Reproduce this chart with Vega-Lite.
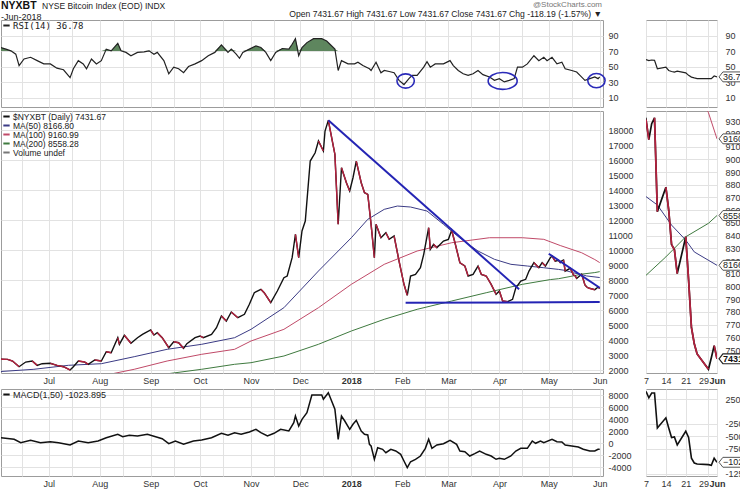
{
"$schema": "https://vega.github.io/schema/vega-lite/v6.json",
"padding": 0,
"background": "white",
"title": {"text": "NYXBT", "subtitle": "-Jun-2018", "anchor": "start", "frame": "group", "fontSize": 10.5, "fontWeight": "bold", "subtitleFontSize": 9, "subtitleColor": "#222", "offset": -21, "subtitlePadding": 1},
"datasets": {
"px": [
{"d":"2017-06-02","p":2713},{"d":"2017-06-06","p":2710},{"d":"2017-06-09","p":2600},{"d":"2017-06-13","p":2220},{"d":"2017-06-17","p":2530},{"d":"2017-06-21","p":2600},{"d":"2017-06-24","p":2310},{"d":"2017-06-27","p":2420},
{"d":"2017-07-02","p":2447},{"d":"2017-07-06","p":2310},{"d":"2017-07-10","p":2220},{"d":"2017-07-14","p":2000},{"d":"2017-07-16","p":2220},{"d":"2017-07-19","p":2600},{"d":"2017-07-23","p":2530},{"d":"2017-07-25","p":2380},{"d":"2017-07-29","p":2667},
{"d":"2017-08-02","p":2600},{"d":"2017-08-05","p":3220},{"d":"2017-08-08","p":3153},{"d":"2017-08-12","p":4153},{"d":"2017-08-13","p":3713},{"d":"2017-08-16","p":4313},{"d":"2017-08-20","p":3780},{"d":"2017-08-24","p":4153},{"d":"2017-08-27","p":4380},
{"d":"2017-09-01","p":4667},{"d":"2017-09-03","p":4333},{"d":"2017-09-05","p":4487},{"d":"2017-09-08","p":4153},{"d":"2017-09-12","p":3487},{"d":"2017-09-15","p":3887},{"d":"2017-09-18","p":3820},{"d":"2017-09-21","p":3447},{"d":"2017-09-23","p":3753},{"d":"2017-09-28","p":4153},
{"d":"2017-10-01","p":4267},{"d":"2017-10-03","p":4153},{"d":"2017-10-08","p":4380},{"d":"2017-10-11","p":4820},{"d":"2017-10-14","p":5600},{"d":"2017-10-17","p":5267},{"d":"2017-10-20","p":5867},{"d":"2017-10-24","p":5487},{"d":"2017-10-28","p":5713},{"d":"2017-10-31","p":6380},
{"d":"2017-11-03","p":7153},{"d":"2017-11-07","p":7380},{"d":"2017-11-09","p":7153},{"d":"2017-11-13","p":6487},{"d":"2017-11-17","p":7267},{"d":"2017-11-21","p":8153},{"d":"2017-11-23","p":8267},{"d":"2017-11-26","p":9487},{"d":"2017-11-28","p":11047},{"d":"2017-11-30","p":9487},
{"d":"2017-12-02","p":11267},{"d":"2017-12-04","p":11933},{"d":"2017-12-07","p":15933},{"d":"2017-12-10","p":16487},{"d":"2017-12-12","p":17267},{"d":"2017-12-15","p":16600},{"d":"2017-12-16","p":17933},{"d":"2017-12-18","p":18647},{"d":"2017-12-22","p":16380},{"d":"2017-12-24","p":11713},{"d":"2017-12-26","p":15487},{"d":"2017-12-29","p":14487},{"d":"2017-12-31","p":13933},
{"d":"2018-01-02","p":14820},{"d":"2018-01-04","p":15933},{"d":"2018-01-07","p":14487},{"d":"2018-01-09","p":13820},{"d":"2018-01-11","p":13713},{"d":"2018-01-13","p":11713},{"d":"2018-01-15","p":9487},{"d":"2018-01-16","p":11713},{"d":"2018-01-19","p":10820},{"d":"2018-01-22","p":11153},{"d":"2018-01-24","p":10713},{"d":"2018-01-27","p":10933},{"d":"2018-01-30","p":9267},
{"d":"2018-02-02","p":7713},{"d":"2018-02-04","p":6980},{"d":"2018-02-06","p":8267},{"d":"2018-02-09","p":8380},{"d":"2018-02-12","p":8820},{"d":"2018-02-14","p":9713},{"d":"2018-02-17","p":11487},{"d":"2018-02-18","p":10047},{"d":"2018-02-20","p":10380},{"d":"2018-02-22","p":10153},{"d":"2018-02-26","p":10600},
{"d":"2018-03-01","p":10713},{"d":"2018-03-03","p":11313},{"d":"2018-03-05","p":10487},{"d":"2018-03-08","p":9153},{"d":"2018-03-11","p":8933},{"d":"2018-03-13","p":8267},{"d":"2018-03-16","p":8380},{"d":"2018-03-19","p":8933},{"d":"2018-03-21","p":8380},{"d":"2018-03-24","p":8267},{"d":"2018-03-27","p":7713},{"d":"2018-03-30","p":7047},
{"d":"2018-04-01","p":7267},{"d":"2018-04-03","p":6600},{"d":"2018-04-06","p":6553},{"d":"2018-04-09","p":6713},{"d":"2018-04-11","p":7487},{"d":"2018-04-14","p":7933},{"d":"2018-04-17","p":8047},{"d":"2018-04-19","p":8600},{"d":"2018-04-22","p":9153},{"d":"2018-04-25","p":8820},{"d":"2018-04-27","p":9153},{"d":"2018-04-29","p":8933},
{"d":"2018-05-02","p":9487},{"d":"2018-05-03","p":9600},{"d":"2018-05-05","p":9250},{"d":"2018-05-07","p":9313},{"d":"2018-05-08","p":9155},{"d":"2018-05-09","p":9280},{"d":"2018-05-10","p":9327},{"d":"2018-05-11","p":8589},{"d":"2018-05-14","p":8781},{"d":"2018-05-15","p":8600},{"d":"2018-05-16","p":8330},{"d":"2018-05-17","p":8290},{"d":"2018-05-18","p":8102},{"d":"2018-05-21","p":8391},{"d":"2018-05-22","p":8050},{"d":"2018-05-23","p":7679},{"d":"2018-05-24","p":7550},{"d":"2018-05-25","p":7470},{"d":"2018-05-29","p":7350},{"d":"2018-05-30","p":7440},{"d":"2018-05-31","p":7535},{"d":"2018-06-01","p":7431.67}
],
"ma": [
{"s":"MA(50) 8166.80","d":"2017-06-02","v":1900},{"s":"MA(50) 8166.80","d":"2017-06-22","v":2047},{"s":"MA(50) 8166.80","d":"2017-07-13","v":2313},{"s":"MA(50) 8166.80","d":"2017-08-02","v":2420},{"s":"MA(50) 8166.80","d":"2017-08-22","v":2887},{"s":"MA(50) 8166.80","d":"2017-09-11","v":3380},{"s":"MA(50) 8166.80","d":"2017-10-02","v":3713},{"s":"MA(50) 8166.80","d":"2017-10-22","v":4153},{"s":"MA(50) 8166.80","d":"2017-11-01","v":4713},{"s":"MA(50) 8166.80","d":"2017-11-21","v":6153},{"s":"MA(50) 8166.80","d":"2017-12-12","v":8600},{"s":"MA(50) 8166.80","d":"2018-01-01","v":10820},{"s":"MA(50) 8166.80","d":"2018-01-11","v":12047},{"s":"MA(50) 8166.80","d":"2018-01-21","v":12713},{"s":"MA(50) 8166.80","d":"2018-01-29","v":12933},{"s":"MA(50) 8166.80","d":"2018-02-06","v":12867},{"s":"MA(50) 8166.80","d":"2018-02-16","v":12600},{"s":"MA(50) 8166.80","d":"2018-02-26","v":11713},{"s":"MA(50) 8166.80","d":"2018-03-09","v":10713},{"s":"MA(50) 8166.80","d":"2018-03-19","v":9933},{"s":"MA(50) 8166.80","d":"2018-03-29","v":9380},{"s":"MA(50) 8166.80","d":"2018-04-08","v":9047},{"s":"MA(50) 8166.80","d":"2018-04-18","v":8933},{"s":"MA(50) 8166.80","d":"2018-04-28","v":8820},{"s":"MA(50) 8166.80","d":"2018-05-07","v":8707},{"s":"MA(50) 8166.80","d":"2018-05-11","v":8641},{"s":"MA(50) 8166.80","d":"2018-05-16","v":8483},{"s":"MA(50) 8166.80","d":"2018-05-21","v":8365},{"s":"MA(50) 8166.80","d":"2018-05-24","v":8272},{"s":"MA(50) 8166.80","d":"2018-06-01","v":8166.80},
{"s":"MA(100) 9160.99","d":"2017-06-02","v":1350},{"s":"MA(100) 9160.99","d":"2017-07-13","v":1480},{"s":"MA(100) 9160.99","d":"2017-08-02","v":1600},{"s":"MA(100) 9160.99","d":"2017-08-22","v":2047},{"s":"MA(100) 9160.99","d":"2017-09-11","v":2600},{"s":"MA(100) 9160.99","d":"2017-10-02","v":3047},{"s":"MA(100) 9160.99","d":"2017-10-22","v":3380},{"s":"MA(100) 9160.99","d":"2017-11-01","v":3933},{"s":"MA(100) 9160.99","d":"2017-11-21","v":4713},{"s":"MA(100) 9160.99","d":"2017-12-12","v":6153},{"s":"MA(100) 9160.99","d":"2018-01-01","v":7713},{"s":"MA(100) 9160.99","d":"2018-01-21","v":9047},{"s":"MA(100) 9160.99","d":"2018-02-10","v":9933},{"s":"MA(100) 9160.99","d":"2018-03-03","v":10487},{"s":"MA(100) 9160.99","d":"2018-03-26","v":10820},{"s":"MA(100) 9160.99","d":"2018-04-15","v":10820},{"s":"MA(100) 9160.99","d":"2018-04-28","v":10713},{"s":"MA(100) 9160.99","d":"2018-05-08","v":10300},{"s":"MA(100) 9160.99","d":"2018-05-21","v":9820},{"s":"MA(100) 9160.99","d":"2018-05-29","v":9366},{"s":"MA(100) 9160.99","d":"2018-06-01","v":9160.99},
{"s":"MA(200) 8558.28","d":"2017-06-02","v":900},{"s":"MA(200) 8558.28","d":"2017-07-13","v":1200},{"s":"MA(200) 8558.28","d":"2017-08-02","v":1400},{"s":"MA(200) 8558.28","d":"2017-09-01","v":1600},{"s":"MA(200) 8558.28","d":"2017-10-02","v":2047},{"s":"MA(200) 8558.28","d":"2017-10-22","v":2380},{"s":"MA(200) 8558.28","d":"2017-11-01","v":2487},{"s":"MA(200) 8558.28","d":"2017-11-21","v":2933},{"s":"MA(200) 8558.28","d":"2017-12-12","v":3713},{"s":"MA(200) 8558.28","d":"2018-01-01","v":4600},{"s":"MA(200) 8558.28","d":"2018-01-21","v":5380},{"s":"MA(200) 8558.28","d":"2018-02-10","v":6047},{"s":"MA(200) 8558.28","d":"2018-03-03","v":6600},{"s":"MA(200) 8558.28","d":"2018-03-24","v":7153},{"s":"MA(200) 8558.28","d":"2018-04-15","v":7713},{"s":"MA(200) 8558.28","d":"2018-05-02","v":8030},{"s":"MA(200) 8558.28","d":"2018-05-07","v":8088},{"s":"MA(200) 8558.28","d":"2018-05-14","v":8233},{"s":"MA(200) 8558.28","d":"2018-05-21","v":8391},{"s":"MA(200) 8558.28","d":"2018-05-29","v":8497},{"s":"MA(200) 8558.28","d":"2018-06-01","v":8558.28}
],
"trend": [
{"g":"a","d":"2017-12-18","v":18647},{"g":"a","d":"2018-04-13","v":7380},
{"g":"b","d":"2018-02-03","v":6480},{"g":"b","d":"2018-06-01","v":6530},
{"g":"c","d":"2018-05-01","v":9753},{"g":"c","d":"2018-06-01","v":7487}
],
"circ": [
{"k":"s","d":"2018-02-03","v":31.5},{"k":"b","d":"2018-04-03","v":31.5},{"k":"s","d":"2018-05-30","v":32}
],
"rsiL": [
{"d":"2017-06-02","r":74.6},{"d":"2017-06-05","r":72.5},{"d":"2017-06-08","r":70.3},{"d":"2017-06-11","r":66},{"d":"2017-06-13","r":51.3},{"d":"2017-06-16","r":59.8},{"d":"2017-06-20","r":62},{"d":"2017-06-24","r":57.7},{"d":"2017-06-28","r":53.5},
{"d":"2017-07-02","r":53.5},{"d":"2017-07-06","r":48},{"d":"2017-07-10","r":45.9},{"d":"2017-07-14","r":35.8},{"d":"2017-07-16","r":47.2},{"d":"2017-07-19","r":57.7},{"d":"2017-07-22","r":53.5},{"d":"2017-07-24","r":47.2},{"d":"2017-07-27","r":59.8},{"d":"2017-07-30","r":53.5},
{"d":"2017-08-02","r":57.7},{"d":"2017-08-05","r":72.5},{"d":"2017-08-08","r":70.3},{"d":"2017-08-12","r":80},{"d":"2017-08-14","r":70.3},{"d":"2017-08-17","r":68.3},{"d":"2017-08-20","r":64},{"d":"2017-08-24","r":68.3},{"d":"2017-08-28","r":69},{"d":"2017-08-31","r":70.3},
{"d":"2017-09-03","r":66},{"d":"2017-09-05","r":68.3},{"d":"2017-09-09","r":57.7},{"d":"2017-09-12","r":40.8},{"d":"2017-09-15","r":49.3},{"d":"2017-09-18","r":47.2},{"d":"2017-09-21","r":42.1},{"d":"2017-09-24","r":50.1},{"d":"2017-09-28","r":53.5},
{"d":"2017-10-02","r":57.7},{"d":"2017-10-06","r":64},{"d":"2017-10-10","r":68.3},{"d":"2017-10-14","r":77.9},{"d":"2017-10-18","r":68.3},{"d":"2017-10-20","r":72.5},{"d":"2017-10-23","r":66},{"d":"2017-10-25","r":60.7},{"d":"2017-10-27","r":68.3},{"d":"2017-10-31","r":72.5},
{"d":"2017-11-04","r":76.6},{"d":"2017-11-07","r":74.6},{"d":"2017-11-10","r":68.3},{"d":"2017-11-13","r":57.7},{"d":"2017-11-16","r":68.3},{"d":"2017-11-20","r":73.3},{"d":"2017-11-24","r":72.5},{"d":"2017-11-26","r":78.8},{"d":"2017-11-28","r":86},{"d":"2017-11-30","r":64},
{"d":"2017-12-02","r":74.6},{"d":"2017-12-05","r":80.9},{"d":"2017-12-09","r":86},{"d":"2017-12-14","r":86},{"d":"2017-12-17","r":83},{"d":"2017-12-19","r":78.8},{"d":"2017-12-22","r":72.5},{"d":"2017-12-24","r":45},{"d":"2017-12-26","r":57.7},{"d":"2017-12-30","r":53.5},
{"d":"2018-01-03","r":53.5},{"d":"2018-01-05","r":55.6},{"d":"2018-01-08","r":51.3},{"d":"2018-01-12","r":47.2},{"d":"2018-01-13","r":45},{"d":"2018-01-16","r":55.6},{"d":"2018-01-19","r":42.1},{"d":"2018-01-21","r":45},{"d":"2018-01-24","r":43.7},{"d":"2018-01-27","r":42.1},{"d":"2018-01-30","r":32.3},
{"d":"2018-02-02","r":26.9},{"d":"2018-02-05","r":34.5},{"d":"2018-02-07","r":38.7},{"d":"2018-02-10","r":38.7},{"d":"2018-02-14","r":49.3},{"d":"2018-02-16","r":56.4},{"d":"2018-02-18","r":49.3},{"d":"2018-02-21","r":53.5},{"d":"2018-02-26","r":53.5},
{"d":"2018-03-02","r":57.7},{"d":"2018-03-04","r":51.3},{"d":"2018-03-07","r":45},{"d":"2018-03-10","r":40.8},{"d":"2018-03-13","r":38.7},{"d":"2018-03-16","r":40.8},{"d":"2018-03-19","r":45},{"d":"2018-03-22","r":39.6},{"d":"2018-03-26","r":36.6},{"d":"2018-03-29","r":32.3},
{"d":"2018-04-01","r":34.5},{"d":"2018-04-04","r":30.3},{"d":"2018-04-07","r":32.3},{"d":"2018-04-10","r":34.5},{"d":"2018-04-12","r":49.3},{"d":"2018-04-15","r":49.3},{"d":"2018-04-18","r":53.5},{"d":"2018-04-22","r":64},{"d":"2018-04-25","r":57.7},{"d":"2018-04-28","r":62},{"d":"2018-04-30","r":57.7},
{"d":"2018-05-03","r":62},{"d":"2018-05-06","r":53.5},{"d":"2018-05-09","r":55.6},{"d":"2018-05-11","r":47.2},{"d":"2018-05-15","r":45},{"d":"2018-05-18","r":43},{"d":"2018-05-20","r":38.7},{"d":"2018-05-23","r":32.3},{"d":"2018-05-26","r":34.5},{"d":"2018-05-29","r":36.6},{"d":"2018-05-31","r":34.5},{"d":"2018-06-01","r":36.78}
],
"rsiR": [
{"d":"2018-05-07","r":59},{"d":"2018-05-08","r":57.7},{"d":"2018-05-09","r":58.5},{"d":"2018-05-10","r":58},{"d":"2018-05-11","r":47.2},{"d":"2018-05-14","r":49.3},{"d":"2018-05-15","r":45},{"d":"2018-05-16","r":43.7},{"d":"2018-05-17","r":43},{"d":"2018-05-18","r":44.2},{"d":"2018-05-21","r":42},{"d":"2018-05-22","r":38.7},{"d":"2018-05-23","r":36.5},{"d":"2018-05-24","r":35.4},{"d":"2018-05-25","r":34.5},{"d":"2018-05-29","r":34.5},{"d":"2018-05-30","r":34.5},{"d":"2018-05-31","r":37.9},{"d":"2018-06-01","r":36.78}
],
"macdL": [
{"d":"2017-06-02","m":883},{"d":"2017-06-10","m":617},{"d":"2017-06-14","m":50},{"d":"2017-06-20","m":450},{"d":"2017-06-26","m":50},{"d":"2017-07-02","m":217},{"d":"2017-07-07","m":50},{"d":"2017-07-14","m":-333},{"d":"2017-07-19","m":333},{"d":"2017-07-25","m":50},{"d":"2017-07-31","m":333},
{"d":"2017-08-05","m":883},{"d":"2017-08-12","m":1450},{"d":"2017-08-15","m":1050},{"d":"2017-08-19","m":1283},{"d":"2017-08-24","m":1167},{"d":"2017-08-30","m":1450},{"d":"2017-09-04","m":1050},{"d":"2017-09-08","m":717},{"d":"2017-09-12","m":-117},{"d":"2017-09-16","m":333},{"d":"2017-09-21","m":-217},{"d":"2017-09-27","m":333},
{"d":"2017-10-02","m":500},{"d":"2017-10-08","m":883},{"d":"2017-10-14","m":1617},{"d":"2017-10-18","m":1283},{"d":"2017-10-22","m":1717},{"d":"2017-10-26","m":1450},{"d":"2017-10-31","m":1833},{"d":"2017-11-04","m":2283},{"d":"2017-11-07","m":1717},{"d":"2017-11-11","m":1167},{"d":"2017-11-15","m":1617},{"d":"2017-11-19","m":2283},{"d":"2017-11-24","m":2000},{"d":"2017-11-27","m":3383},{"d":"2017-11-28","m":4500},{"d":"2017-11-30","m":2833},
{"d":"2017-12-02","m":3950},{"d":"2017-12-05","m":5050},{"d":"2017-12-08","m":8000},{"d":"2017-12-14","m":8000},{"d":"2017-12-15","m":7283},{"d":"2017-12-18","m":8383},{"d":"2017-12-22","m":5617},{"d":"2017-12-24","m":617},{"d":"2017-12-26","m":4500},{"d":"2017-12-28","m":3667},{"d":"2017-12-31","m":2283},
{"d":"2018-01-02","m":3117},{"d":"2018-01-04","m":3783},{"d":"2018-01-07","m":2000},{"d":"2018-01-09","m":1450},{"d":"2018-01-11","m":1333},{"d":"2018-01-12","m":-217},{"d":"2018-01-13","m":-500},{"d":"2018-01-15","m":-2717},{"d":"2018-01-17","m":-783},{"d":"2018-01-20","m":-1050},{"d":"2018-01-22","m":-1617},{"d":"2018-01-25","m":-1050},{"d":"2018-01-28","m":-1333},{"d":"2018-01-31","m":-1883},
{"d":"2018-02-02","m":-3000},{"d":"2018-02-04","m":-4117},{"d":"2018-02-06","m":-3117},{"d":"2018-02-09","m":-2717},{"d":"2018-02-12","m":-2167},{"d":"2018-02-15","m":-883},{"d":"2018-02-17","m":617},{"d":"2018-02-19","m":-883},{"d":"2018-02-22","m":-333},{"d":"2018-02-26","m":-117},
{"d":"2018-03-02","m":450},{"d":"2018-03-06","m":-217},{"d":"2018-03-08","m":-1333},{"d":"2018-03-11","m":-1450},{"d":"2018-03-14","m":-2167},{"d":"2018-03-17","m":-1783},{"d":"2018-03-20","m":-1333},{"d":"2018-03-24","m":-1883},{"d":"2018-03-27","m":-2167},{"d":"2018-03-30","m":-2717},
{"d":"2018-04-01","m":-2550},{"d":"2018-04-04","m":-2717},{"d":"2018-04-08","m":-2167},{"d":"2018-04-11","m":-1333},{"d":"2018-04-14","m":-883},{"d":"2018-04-18","m":-883},{"d":"2018-04-21","m":333},{"d":"2018-04-23","m":-50},{"d":"2018-04-26","m":333},{"d":"2018-04-28","m":50},
{"d":"2018-05-03","m":617},{"d":"2018-05-06","m":217},{"d":"2018-05-09","m":167},{"d":"2018-05-11","m":-333},{"d":"2018-05-15","m":-500},{"d":"2018-05-19","m":-667},{"d":"2018-05-22","m":-1050},{"d":"2018-05-26","m":-1333},{"d":"2018-05-29","m":-1333},{"d":"2018-05-31","m":-1050},{"d":"2018-06-01","m":-1023.895}
],
"macdR": [
{"d":"2018-05-07","m":404},{"d":"2018-05-08","m":275},{"d":"2018-05-09","m":371},{"d":"2018-05-10","m":371},{"d":"2018-05-11","m":-333},{"d":"2018-05-14","m":-129},{"d":"2018-05-15","m":-333},{"d":"2018-05-16","m":-525},{"d":"2018-05-17","m":-513},{"d":"2018-05-18","m":-673},{"d":"2018-05-21","m":-398},{"d":"2018-05-22","m":-525},{"d":"2018-05-23","m":-942},{"d":"2018-05-24","m":-1038},{"d":"2018-05-25","m":-1060},{"d":"2018-05-29","m":-1071},{"d":"2018-05-30","m":-1083},{"d":"2018-05-31","m":-942},{"d":"2018-06-01","m":-1023.895}
]
},
"spacing": 2,
"resolve": {"scale": {"color": "independent", "x": "independent", "y": "independent"}, "legend": {"color": "independent"}},
"vconcat": [
{
"bounds": "flush",
"spacing": 43,
"resolve": {"scale": {"color": "independent", "x": "independent", "y": "independent"}, "legend": {"color": "independent"}},
"hconcat": [
{
"width": 602, "height": 87,
"title": {"text": "NYSE Bitcoin Index (EOD)  INDX", "anchor": "start", "dx": 41, "fontSize": 8.5, "fontWeight": "normal", "offset": 10, "color": "#222"},
"layer": [
{"data": {"name": "rsiL"}, "transform": [{"calculate": "max(datum.r, 70)", "as": "hi"}],
 "mark": {"type": "area", "color": "#557f55", "opacity": 0.95, "clip": true},
 "encoding": {"x": {"field": "d", "type": "temporal", "scale": {"type": "utc", "domain": [{"year":2017,"month":6,"date":2,"utc":true},{"year":2018,"month":6,"date":3,"utc":true}]},
   "axis": {"title": null, "labels": false, "ticks": false, "domain": false, "grid": true, "tickCount": 100, "values": [{"year":2017,"month":6,"date":15,"utc":true},{"year":2017,"month":7,"date":1,"utc":true},{"year":2017,"month":7,"date":15,"utc":true},{"year":2017,"month":8,"date":1,"utc":true},{"year":2017,"month":8,"date":15,"utc":true},{"year":2017,"month":9,"date":1,"utc":true},{"year":2017,"month":9,"date":15,"utc":true},{"year":2017,"month":10,"date":1,"utc":true},{"year":2017,"month":10,"date":15,"utc":true},{"year":2017,"month":11,"date":1,"utc":true},{"year":2017,"month":11,"date":15,"utc":true},{"year":2017,"month":12,"date":1,"utc":true},{"year":2017,"month":12,"date":15,"utc":true},{"year":2018,"month":1,"date":1,"utc":true},{"year":2018,"month":1,"date":15,"utc":true},{"year":2018,"month":2,"date":1,"utc":true},{"year":2018,"month":2,"date":15,"utc":true},{"year":2018,"month":3,"date":1,"utc":true},{"year":2018,"month":3,"date":15,"utc":true},{"year":2018,"month":4,"date":1,"utc":true},{"year":2018,"month":4,"date":15,"utc":true},{"year":2018,"month":5,"date":1,"utc":true},{"year":2018,"month":5,"date":15,"utc":true},{"year":2018,"month":6,"date":1,"utc":true}]}},
  "y": {"field": "hi", "type": "quantitative", "scale": {"domain": [-2, 110], "nice": false, "zero": false}, "axis": {"title": null, "orient": "right", "values": [10, 30, 50, 70, 90], "tickCount": 100, "labelExpr": "'' + datum.value", "labelOverlap": false, "ticks": false, "domain": false, "grid": true, "labelPadding": 5}},
  "y2": {"datum": 70}}},
{"mark": {"type": "rule", "color": "#8f8f8f", "strokeWidth": 1.2}, "encoding": {"y": {"datum": 70}}},
{"mark": {"type": "rule", "color": "#8f8f8f", "strokeWidth": 1.2}, "encoding": {"y": {"datum": 30}}},
{"mark": {"type": "rule", "color": "#9a9a9a", "strokeWidth": 1, "strokeDash": [8, 3, 2, 3]}, "encoding": {"y": {"datum": 50}}},
{"data": {"name": "rsiL"}, "mark": {"type": "line", "strokeWidth": 1.2, "clip": true},
 "encoding": {"x": {"field": "d", "type": "temporal"}, "y": {"field": "r", "type": "quantitative"},
  "color": {"datum": "RSI(14) 36.78", "type": "nominal", "scale": {"range": ["#222222"]}, "legend": {"orient": "top-left", "offset": 1, "padding": 0, "title": null, "symbolType": "stroke", "symbolSize": 40, "symbolStrokeWidth": 2, "labelFontSize": 9, "labelFont": "DejaVu Sans Mono", "labelOffset": 2}}}},
{"data": {"name": "circ"}, "transform": [{"filter": "datum.k == 's'"}],
 "mark": {"type": "point", "shape": "M-1,0 A1,0.82 0 1,0 1,0 A1,0.82 0 1,0 -1,0 Z", "size": 300, "filled": false, "stroke": "#2a2ab8", "strokeWidth": 1.6, "opacity": 1},
 "encoding": {"x": {"field": "d", "type": "temporal"}, "y": {"field": "v", "type": "quantitative"}}},
{"data": {"name": "circ"}, "transform": [{"filter": "datum.k == 'b'"}],
 "mark": {"type": "point", "shape": "M-1,0 A1,0.58 0 1,0 1,0 A1,0.58 0 1,0 -1,0 Z", "size": 841, "filled": false, "stroke": "#2a2ab8", "strokeWidth": 1.6, "opacity": 1},
 "encoding": {"x": {"field": "d", "type": "temporal"}, "y": {"field": "v", "type": "quantitative"}}}
]
},
{
"width": 71, "height": 87,
"title": {"text": "@StockCharts.com", "subtitle": "Open 7431.67  High 7431.67  Low 7431.67  Close 7431.67  Chg -118.19 (-1.57%) ▼", "anchor": "end", "dx": -145, "fontSize": 8, "fontWeight": "normal", "color": "#777777", "subtitleFontSize": 8.6, "subtitleColor": "#222222", "subtitlePadding": 1, "offset": 1},
"layer": [
{"mark": {"type": "rule", "color": "#8f8f8f", "strokeWidth": 1.2}, "encoding": {"y": {"datum": 70, "type": "quantitative", "scale": {"domain": [-2, 110], "nice": false, "zero": false}, "axis": {"title": null, "orient": "right", "values": [10, 30, 50, 70, 90], "tickCount": 100, "labelExpr": "'' + datum.value", "labelOverlap": false, "ticks": false, "domain": false, "grid": true, "labelPadding": 8}}}},
{"mark": {"type": "rule", "color": "#8f8f8f", "strokeWidth": 1.2}, "encoding": {"y": {"datum": 30, "type": "quantitative"}}},
{"mark": {"type": "rule", "color": "#9a9a9a", "strokeWidth": 1, "strokeDash": [8, 3, 2, 3]}, "encoding": {"y": {"datum": 50, "type": "quantitative"}}},
{"data": {"name": "rsiR"}, "mark": {"type": "line", "strokeWidth": 1.2, "color": "#222222", "clip": true},
 "encoding": {"x": {"field": "d", "type": "temporal", "scale": {"type": "utc", "domain": [{"year":2018,"month":5,"date":7,"utc":true},{"year":2018,"month":6,"date":1,"utc":true}]},
   "axis": {"title": null, "labels": false, "ticks": false, "domain": false, "grid": true, "tickCount": 100, "values": [{"year":2018,"month":5,"date":7,"utc":true},{"year":2018,"month":5,"date":14,"utc":true},{"year":2018,"month":5,"date":21,"utc":true},{"year":2018,"month":5,"date":29,"utc":true},{"year":2018,"month":6,"date":1,"utc":true}]}},
  "y": {"field": "r", "type": "quantitative"}}},
{"data": {"name": "rsiR"}, "transform": [{"filter": "utcyear(datum.d) == 2018 && utcmonth(datum.d) == 5"}],
 "mark": {"type": "point", "shape": "M0,0 L0.3,-0.38 L2,-0.38 L2,0.38 L0.3,0.38 Z", "size": 676, "filled": true, "fill": "white", "stroke": "#555", "strokeWidth": 1, "opacity": 1, "xOffset": 2},
 "encoding": {"x": {"field": "d", "type": "temporal"}, "y": {"field": "r", "type": "quantitative"}}},
{"data": {"name": "rsiR"}, "transform": [{"filter": "utcyear(datum.d) == 2018 && utcmonth(datum.d) == 5"}],
 "mark": {"type": "text", "align": "left", "dx": 6, "fontSize": 9, "color": "#222"},
 "encoding": {"x": {"field": "d", "type": "temporal"}, "y": {"field": "r", "type": "quantitative"}, "text": {"field": "r", "type": "quantitative", "format": ".2f"}}}
]
}
]
},
{
"bounds": "flush",
"spacing": 43,
"resolve": {"scale": {"color": "independent", "x": "independent", "y": "independent"}, "legend": {"color": "independent"}},
"hconcat": [
{
"width": 602, "height": 262,
"layer": [
{"data": {"name": "ma"}, "mark": {"type": "line", "strokeWidth": 1, "clip": true},
 "encoding": {"x": {"field": "d", "type": "temporal", "scale": {"type": "utc", "domain": [{"year":2017,"month":6,"date":2,"utc":true},{"year":2018,"month":6,"date":3,"utc":true}]},
   "axis": {"title": null, "ticks": false, "domain": false, "grid": true, "tickCount": 100, "labelFlush": false, "labelOverlap": false, "labelPadding": 3,
    "labelExpr": "utcdate(datum.value) == 1 ? (utcmonth(datum.value) == 0 ? utcFormat(datum.value, '%Y') : utcFormat(datum.value, '%b')) : ''",
    "labelFontWeight": {"condition": {"test": "utcmonth(datum.value) == 0 && utcdate(datum.value) == 1", "value": "bold"}, "value": "normal"},
    "values": [{"year":2017,"month":6,"date":15,"utc":true},{"year":2017,"month":7,"date":1,"utc":true},{"year":2017,"month":7,"date":15,"utc":true},{"year":2017,"month":8,"date":1,"utc":true},{"year":2017,"month":8,"date":15,"utc":true},{"year":2017,"month":9,"date":1,"utc":true},{"year":2017,"month":9,"date":15,"utc":true},{"year":2017,"month":10,"date":1,"utc":true},{"year":2017,"month":10,"date":15,"utc":true},{"year":2017,"month":11,"date":1,"utc":true},{"year":2017,"month":11,"date":15,"utc":true},{"year":2017,"month":12,"date":1,"utc":true},{"year":2017,"month":12,"date":15,"utc":true},{"year":2018,"month":1,"date":1,"utc":true},{"year":2018,"month":1,"date":15,"utc":true},{"year":2018,"month":2,"date":1,"utc":true},{"year":2018,"month":2,"date":15,"utc":true},{"year":2018,"month":3,"date":1,"utc":true},{"year":2018,"month":3,"date":15,"utc":true},{"year":2018,"month":4,"date":1,"utc":true},{"year":2018,"month":4,"date":15,"utc":true},{"year":2018,"month":5,"date":1,"utc":true},{"year":2018,"month":5,"date":15,"utc":true},{"year":2018,"month":6,"date":1,"utc":true}]}},
  "y": {"field": "v", "type": "quantitative", "scale": {"domain": [1800, 19270], "nice": false, "zero": false},
   "axis": {"title": null, "orient": "right", "ticks": false, "domain": false, "grid": true, "tickCount": 100, "labelPadding": 5, "labelExpr": "'' + datum.value", "labelOverlap": false,
    "values": [2000,3000,4000,5000,6000,7000,8000,9000,10000,11000,12000,13000,14000,15000,16000,17000,18000],
    "gridOpacity": {"condition": {"test": "datum.value % 2000 == 0", "value": 1}, "value": 0}}},
  "color": {"field": "s", "type": "nominal",
   "scale": {"domain": ["$NYXBT (Daily) 7431.67", "MA(50) 8166.80", "MA(100) 9160.99", "MA(200) 8558.28", "Volume undef"], "range": ["#111111", "#3b3b85", "#c04a68", "#3f7a3f", "#777777"]},
   "legend": {"orient": "top-left", "offset": 1, "padding": 0, "title": null, "symbolType": "stroke", "symbolSize": 40, "symbolStrokeWidth": 2, "labelFontSize": 8.5, "rowPadding": 0, "labelOffset": 2, "labelLimit": 300}}}},
{"data": {"name": "px"}, "mark": {"type": "line", "strokeWidth": 1.4, "clip": true},
 "encoding": {"x": {"field": "d", "type": "temporal"}, "y": {"field": "p", "type": "quantitative"}, "color": {"datum": "$NYXBT (Daily) 7431.67", "type": "nominal"}}},
{"data": {"name": "px"},
 "transform": [{"window": [{"op": "lag", "field": "p", "as": "pp"}, {"op": "lag", "field": "d", "as": "pd"}], "sort": [{"field": "d"}]}, {"filter": "datum.pp != null && datum.p < datum.pp"}],
 "mark": {"type": "rule", "color": "#b5213f", "strokeWidth": 1.4, "clip": true},
 "encoding": {"x": {"field": "pd", "type": "temporal"}, "x2": {"field": "d"}, "y": {"field": "pp", "type": "quantitative"}, "y2": {"field": "p"}}},
{"data": {"name": "trend"}, "mark": {"type": "line", "color": "#2424b4", "strokeWidth": 2, "clip": true},
 "encoding": {"x": {"field": "d", "type": "temporal"}, "y": {"field": "v", "type": "quantitative"}, "detail": {"field": "g"}}}
]
},
{
"width": 71, "height": 262,
"layer": [
{"data": {"name": "ma"}, "mark": {"type": "line", "strokeWidth": 1, "clip": true},
 "encoding": {"x": {"field": "d", "type": "temporal", "scale": {"type": "utc", "domain": [{"year":2018,"month":5,"date":7,"utc":true},{"year":2018,"month":6,"date":1,"utc":true}]},
   "axis": {"title": null, "ticks": false, "domain": false, "grid": true, "tickCount": 100, "labelFlush": false, "labelOverlap": false, "labelPadding": 3,
    "labelExpr": "utcmonth(datum.value) == 5 ? 'Jun' : '' + utcdate(datum.value)",
    "labelFontWeight": {"condition": {"test": "utcmonth(datum.value) == 5", "value": "bold"}, "value": "normal"},
    "labelAlign": {"condition": {"test": "utcdate(datum.value) == 29", "value": "right"}, "value": "center"},
    "values": [{"year":2018,"month":5,"date":7,"utc":true},{"year":2018,"month":5,"date":14,"utc":true},{"year":2018,"month":5,"date":21,"utc":true},{"year":2018,"month":5,"date":29,"utc":true},{"year":2018,"month":6,"date":1,"utc":true}]}},
  "y": {"field": "v", "type": "quantitative", "scale": {"domain": [7320, 9380], "nice": false, "zero": false},
   "axis": {"title": null, "orient": "right", "ticks": false, "domain": false, "grid": true, "tickCount": 100, "labelPadding": 8, "labelExpr": "'' + datum.value", "labelOverlap": false, "values": [7500,7600,7700,7800,7900,8000,8100,8200,8300,8400,8500,8600,8700,8800,8900,9000,9100,9200,9300]}},
  "color": {"field": "s", "type": "nominal", "scale": {"domain": ["MA(50) 8166.80", "MA(100) 9160.99", "MA(200) 8558.28"], "range": ["#3b3b85", "#c04a68", "#3f7a3f"]}, "legend": null}}},
{"data": {"name": "px"}, "mark": {"type": "line", "strokeWidth": 1.7, "color": "#111111", "clip": true},
 "encoding": {"x": {"field": "d", "type": "temporal"}, "y": {"field": "p", "type": "quantitative"}}},
{"data": {"name": "px"},
 "transform": [{"window": [{"op": "lag", "field": "p", "as": "pp"}, {"op": "lag", "field": "d", "as": "pd"}], "sort": [{"field": "d"}]}, {"filter": "datum.pp != null && datum.p < datum.pp"}],
 "mark": {"type": "rule", "color": "#b5213f", "strokeWidth": 1.7, "clip": true},
 "encoding": {"x": {"field": "pd", "type": "temporal"}, "x2": {"field": "d"}, "y": {"field": "pp", "type": "quantitative"}, "y2": {"field": "p"}}},
{"data": {"name": "ma"}, "transform": [{"filter": "utcyear(datum.d) == 2018 && utcmonth(datum.d) == 5"}],
 "mark": {"type": "point", "shape": "M0,0 L0.3,-0.38 L2,-0.38 L2,0.38 L0.3,0.38 Z", "size": 676, "filled": true, "fill": "white", "stroke": "#555", "strokeWidth": 1, "opacity": 1, "xOffset": 2},
 "encoding": {"x": {"field": "d", "type": "temporal"}, "y": {"field": "v", "type": "quantitative"}}},
{"data": {"name": "ma"}, "transform": [{"filter": "utcyear(datum.d) == 2018 && utcmonth(datum.d) == 5"}],
 "mark": {"type": "text", "align": "left", "dx": 6, "fontSize": 9, "color": "#222"},
 "encoding": {"x": {"field": "d", "type": "temporal"}, "y": {"field": "v", "type": "quantitative"}, "text": {"field": "v", "type": "quantitative", "format": ".2f"}}},
{"data": {"name": "px"}, "transform": [{"filter": "utcyear(datum.d) == 2018 && utcmonth(datum.d) == 5"}],
 "mark": {"type": "point", "shape": "M0,0 L0.3,-0.38 L2,-0.38 L2,0.38 L0.3,0.38 Z", "size": 676, "filled": true, "fill": "white", "stroke": "#222", "strokeWidth": 1.2, "opacity": 1, "xOffset": 2},
 "encoding": {"x": {"field": "d", "type": "temporal"}, "y": {"field": "p", "type": "quantitative"}}},
{"data": {"name": "px"}, "transform": [{"filter": "utcyear(datum.d) == 2018 && utcmonth(datum.d) == 5"}],
 "mark": {"type": "text", "align": "left", "dx": 6, "fontSize": 9, "fontWeight": "bold", "color": "#111"},
 "encoding": {"x": {"field": "d", "type": "temporal"}, "y": {"field": "p", "type": "quantitative"}, "text": {"field": "p", "type": "quantitative", "format": ".2f"}}}
]
}
]
},
{
"bounds": "flush",
"spacing": 43,
"resolve": {"scale": {"color": "independent", "x": "independent", "y": "independent"}, "legend": {"color": "independent"}},
"hconcat": [
{
"width": 602, "height": 87,
"layer": [
{"mark": {"type": "rule", "color": "#b04a5a", "strokeWidth": 1}, "encoding": {"y": {"datum": 0, "type": "quantitative", "scale": {"domain": [-5500, 9000], "nice": false, "zero": false}}}},
{"data": {"name": "macdL"}, "mark": {"type": "line", "strokeWidth": 1.5, "clip": true},
 "encoding": {"x": {"field": "d", "type": "temporal", "scale": {"type": "utc", "domain": [{"year":2017,"month":6,"date":2,"utc":true},{"year":2018,"month":6,"date":3,"utc":true}]},
   "axis": {"title": null, "ticks": false, "domain": false, "grid": true, "tickCount": 100, "labelFlush": false, "labelOverlap": false, "labelPadding": 3,
    "labelExpr": "utcdate(datum.value) == 1 ? (utcmonth(datum.value) == 0 ? utcFormat(datum.value, '%Y') : utcFormat(datum.value, '%b')) : ''",
    "labelFontWeight": {"condition": {"test": "utcmonth(datum.value) == 0 && utcdate(datum.value) == 1", "value": "bold"}, "value": "normal"},
    "values": [{"year":2017,"month":6,"date":15,"utc":true},{"year":2017,"month":7,"date":1,"utc":true},{"year":2017,"month":7,"date":15,"utc":true},{"year":2017,"month":8,"date":1,"utc":true},{"year":2017,"month":8,"date":15,"utc":true},{"year":2017,"month":9,"date":1,"utc":true},{"year":2017,"month":9,"date":15,"utc":true},{"year":2017,"month":10,"date":1,"utc":true},{"year":2017,"month":10,"date":15,"utc":true},{"year":2017,"month":11,"date":1,"utc":true},{"year":2017,"month":11,"date":15,"utc":true},{"year":2017,"month":12,"date":1,"utc":true},{"year":2017,"month":12,"date":15,"utc":true},{"year":2018,"month":1,"date":1,"utc":true},{"year":2018,"month":1,"date":15,"utc":true},{"year":2018,"month":2,"date":1,"utc":true},{"year":2018,"month":2,"date":15,"utc":true},{"year":2018,"month":3,"date":1,"utc":true},{"year":2018,"month":3,"date":15,"utc":true},{"year":2018,"month":4,"date":1,"utc":true},{"year":2018,"month":4,"date":15,"utc":true},{"year":2018,"month":5,"date":1,"utc":true},{"year":2018,"month":5,"date":15,"utc":true},{"year":2018,"month":6,"date":1,"utc":true}]}},
  "y": {"field": "m", "type": "quantitative", "axis": {"title": null, "orient": "right", "ticks": false, "domain": false, "grid": true, "tickCount": 100, "labelPadding": 5, "labelExpr": "'' + datum.value", "labelOverlap": false, "values": [-4000, -2000, 0, 2000, 4000, 6000, 8000]}},
  "color": {"datum": "MACD(1,50) -1023.895", "type": "nominal", "scale": {"range": ["#111111"]}, "legend": {"orient": "top-left", "offset": 1, "padding": 0, "title": null, "symbolType": "stroke", "symbolSize": 40, "symbolStrokeWidth": 2, "labelFontSize": 9, "labelOffset": 2, "labelLimit": 300}}}}
]
},
{
"width": 71, "height": 87,
"layer": [
{"mark": {"type": "rule", "color": "#b04a5a", "strokeWidth": 1}, "encoding": {"y": {"datum": 0, "type": "quantitative", "scale": {"domain": [-1300, 452], "nice": false, "zero": false}, "axis": {"title": null, "orient": "right", "ticks": false, "domain": false, "grid": true, "tickCount": 100, "labelPadding": 8, "labelExpr": "'' + datum.value", "labelOverlap": false, "values": [250, -250, -500, -750, -1250]}}}},
{"data": {"name": "macdR"}, "mark": {"type": "line", "strokeWidth": 1.6, "color": "#111111", "clip": true},
 "encoding": {"x": {"field": "d", "type": "temporal", "scale": {"type": "utc", "domain": [{"year":2018,"month":5,"date":7,"utc":true},{"year":2018,"month":6,"date":1,"utc":true}]},
   "axis": {"title": null, "ticks": false, "domain": false, "grid": true, "tickCount": 100, "labelFlush": false, "labelOverlap": false, "labelPadding": 3,
    "labelExpr": "utcmonth(datum.value) == 5 ? 'Jun' : '' + utcdate(datum.value)",
    "labelFontWeight": {"condition": {"test": "utcmonth(datum.value) == 5", "value": "bold"}, "value": "normal"},
    "labelAlign": {"condition": {"test": "utcdate(datum.value) == 29", "value": "right"}, "value": "center"},
    "values": [{"year":2018,"month":5,"date":7,"utc":true},{"year":2018,"month":5,"date":14,"utc":true},{"year":2018,"month":5,"date":21,"utc":true},{"year":2018,"month":5,"date":29,"utc":true},{"year":2018,"month":6,"date":1,"utc":true}]}},
  "y": {"field": "m", "type": "quantitative"}}},
{"data": {"name": "macdR"}, "transform": [{"filter": "utcyear(datum.d) == 2018 && utcmonth(datum.d) == 5"}],
 "mark": {"type": "point", "shape": "M0,0 L0.3,-0.38 L2,-0.38 L2,0.38 L0.3,0.38 Z", "size": 676, "filled": true, "fill": "white", "stroke": "#555", "strokeWidth": 1, "opacity": 1, "xOffset": 2},
 "encoding": {"x": {"field": "d", "type": "temporal"}, "y": {"field": "m", "type": "quantitative"}}},
{"data": {"name": "macdR"}, "transform": [{"filter": "utcyear(datum.d) == 2018 && utcmonth(datum.d) == 5"}],
 "mark": {"type": "text", "align": "left", "dx": 6, "fontSize": 9, "color": "#222"},
 "encoding": {"x": {"field": "d", "type": "temporal"}, "y": {"field": "m", "type": "quantitative"}, "text": {"field": "m", "type": "quantitative", "format": ".3f"}}}
]
}
]
}
],
"config": {
"font": "Liberation Sans",
"view": {"stroke": "#9c9c9c", "strokeWidth": 1},
"axis": {"gridColor": "#e2e2e2", "gridWidth": 1, "labelFont": "Liberation Sans", "labelFontSize": 9, "labelColor": "#333333"},
"legend": {"labelFont": "Liberation Sans", "labelColor": "#222222"},
"title": {"font": "Liberation Sans", "color": "#111111"},
"line": {"interpolate": "linear"}
}
}
